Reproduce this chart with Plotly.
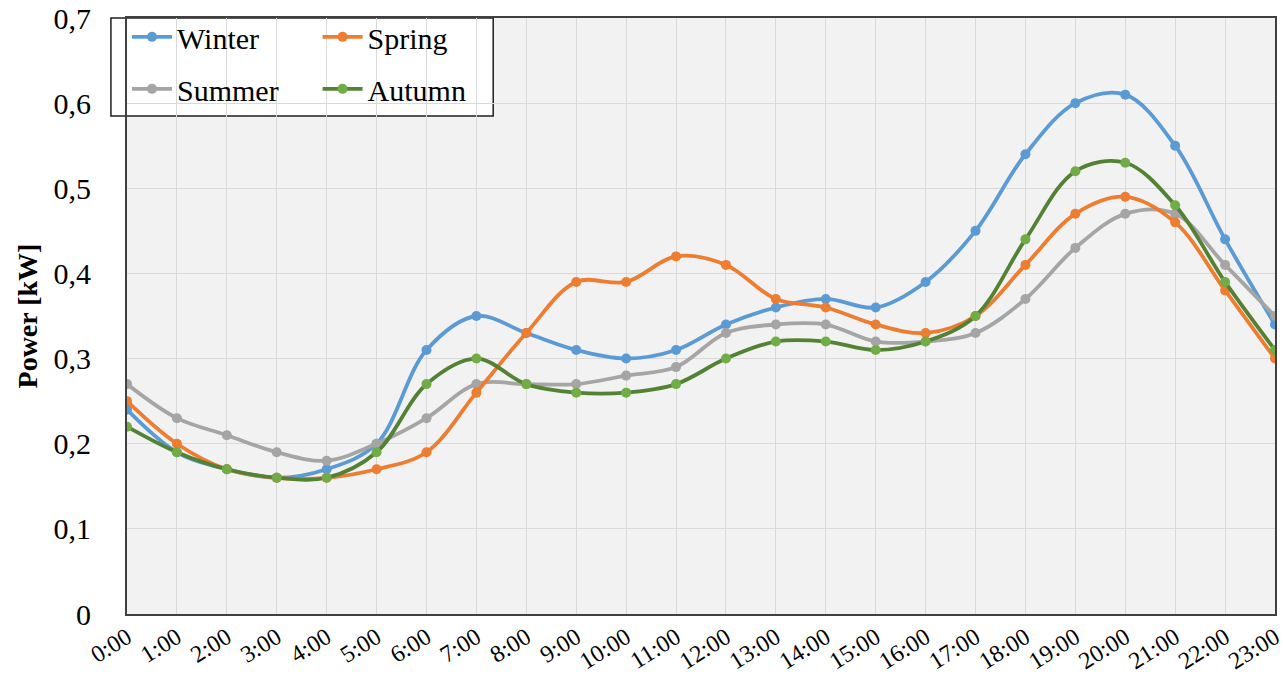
import plotly.graph_objects as go

hours = [f"{h}:00" for h in range(24)]
winter = [0.24, 0.19, 0.17, 0.16, 0.17, 0.20, 0.31, 0.35, 0.33, 0.31, 0.30, 0.31,
          0.34, 0.36, 0.37, 0.36, 0.39, 0.45, 0.54, 0.60, 0.61, 0.55, 0.44, 0.34]
spring = [0.25, 0.20, 0.17, 0.16, 0.16, 0.17, 0.19, 0.26, 0.33, 0.39, 0.39, 0.42,
          0.41, 0.37, 0.36, 0.34, 0.33, 0.35, 0.41, 0.47, 0.49, 0.46, 0.38, 0.30]
summer = [0.27, 0.23, 0.21, 0.19, 0.18, 0.20, 0.23, 0.27, 0.27, 0.27, 0.28, 0.29,
          0.33, 0.34, 0.34, 0.32, 0.32, 0.33, 0.37, 0.43, 0.47, 0.47, 0.41, 0.35]
autumn = [0.22, 0.19, 0.17, 0.16, 0.16, 0.19, 0.27, 0.30, 0.27, 0.26, 0.26, 0.27,
          0.30, 0.32, 0.32, 0.31, 0.32, 0.35, 0.44, 0.52, 0.53, 0.48, 0.39, 0.31]
y_ticks = [0, 0.1, 0.2, 0.3, 0.4, 0.5, 0.6, 0.7]
y_tick_text = ["0", "0,1", "0,2", "0,3", "0,4", "0,5", "0,6", "0,7"]

FONT = "Liberation Serif"

series = [
    ("Winter", winter, "#5B9BD5", "#5B9BD5", "legend"),
    ("Summer", summer, "#A5A5A5", "#A5A5A5", "legend"),
    ("Spring", spring, "#ED7D31", "#ED7D31", "legend2"),
    ("Autumn", autumn, "#548235", "#70AD47", "legend2"),
]

fig = go.Figure()
for name, vals, lc, mc, lg in series:
    fig.add_trace(go.Scatter(
        x=hours, y=vals, name=name, mode="lines+markers",
        line=dict(color=lc, width=3.8, shape="spline", smoothing=1),
        marker=dict(color=mc, size=10),
        legend=lg, legendgroup=name,
    ))

legend_common = dict(
    font=dict(family=FONT, size=30, color="black"),
    bgcolor="rgba(0,0,0,0)", borderwidth=0,
    yanchor="top", xanchor="left", y=1.012,
    tracegroupgap=10, itemwidth=40, traceorder="grouped",
)

fig.update_layout(
    width=1283, height=680,
    margin=dict(l=127, r=8, t=18, b=66),
    paper_bgcolor="white", plot_bgcolor="#F2F2F2",
    font=dict(family=FONT, color="black"),
    showlegend=True,
    legend=dict(x=0.0, **legend_common),
    legend2=dict(x=0.166, **legend_common),
    xaxis=dict(
        type="category", range=[0, 23], automargin=False,
        showgrid=True, gridcolor="#D9D9D9", gridwidth=1,
        showline=True, linecolor="#404040", linewidth=2, mirror=True,
        ticks="", tickangle=-32,
        tickfont=dict(family=FONT, size=24, color="black"),
        ticklabelstandoff=-2, ticklabeloverflow="allow",
    ),
    yaxis=dict(
        range=[0, 0.7], tickvals=y_ticks, ticktext=y_tick_text, automargin=False,
        showgrid=True, gridcolor="#D9D9D9", gridwidth=1,
        showline=True, linecolor="#404040", linewidth=2, mirror=True,
        zeroline=False, ticks="",
        tickfont=dict(family=FONT, size=30, color="black"),
        ticklabelstandoff=28, ticklabeloverflow="allow",
        title=dict(text="<b>Power [kW]</b>", font=dict(family=FONT, size=28, color="black"),
                   standoff=8),
    ),
    shapes=[dict(
        type="rect", xref="paper", yref="paper",
        x0=-0.014, x1=0.319, y0=0.8356, y1=1.0,
        line=dict(color="#202020", width=1.5), fillcolor="white", layer="below",
    )],
)

# remove the browser's default 8px body margin so the figure fills the window
fig.write_html("out.html",
               config={"displayModeBar": False},
               post_script="document.body.style.margin='0px';document.body.style.overflow='hidden';")
